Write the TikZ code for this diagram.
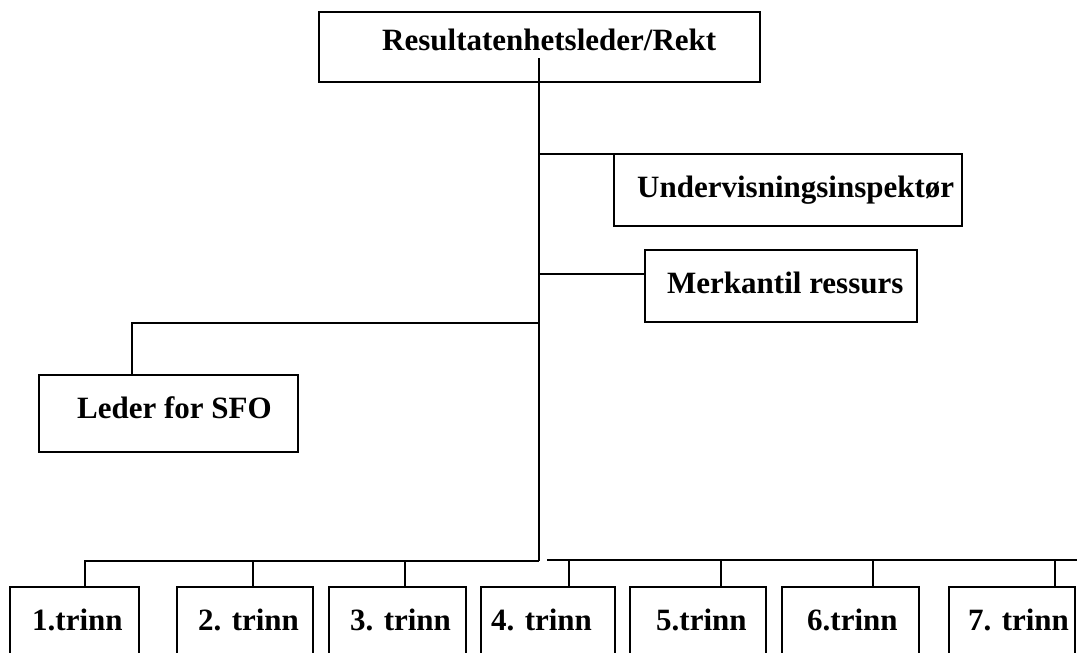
\documentclass[tikz,border=0pt]{standalone}
\usepackage{fontspec}
\setmainfont{Liberation Serif}
\begin{document}
\begin{tikzpicture}[x=1pt,y=-1pt,
  box/.style={draw,line width=1.6pt,inner sep=0pt,outer sep=0pt,anchor=north west},
  lbl/.style={anchor=base west,inner sep=0pt,font=\bfseries\fontsize{31}{37}\selectfont},
  conn/.style={line width=1.6pt}]
\useasboundingbox (0,0) rectangle (1077,653);
% boxes
\node[box,minimum width=441pt,minimum height=70pt] (rektor) at (319,12) {};
\node[box,minimum width=348pt,minimum height=72pt] (ui) at (614,154) {};
\node[box,minimum width=272pt,minimum height=72pt] (mr) at (645,250) {};
\node[box,minimum width=259pt,minimum height=77pt] (sfo) at (39,375) {};
\node[box,minimum width=129pt,minimum height=120pt] (t1) at (10,587) {};
\node[box,minimum width=136pt,minimum height=120pt] (t2) at (177,587) {};
\node[box,minimum width=137pt,minimum height=120pt] (t3) at (329,587) {};
\node[box,minimum width=134pt,minimum height=120pt] (t4) at (481,587) {};
\node[box,minimum width=136pt,minimum height=120pt] (t5) at (630,587) {};
\node[box,minimum width=137pt,minimum height=120pt] (t6) at (782,587) {};
\node[box,minimum width=126pt,minimum height=120pt] (t7) at (949,587) {};
% labels
\node[lbl] (lrektor) at (382,50) {Resultatenhetsleder/Rekt};
\node[lbl] (lui) at (637,197) {Undervisningsinspektør};
\node[lbl] (lmr) at (667,293) {Merkantil ressurs};
\node[lbl] (lsfo) at (77,418) {Leder for SFO};
\node[lbl] (l1) at (32,630) {1.trinn};
\node[lbl] (l2) at (198,630) {2. trinn};
\node[lbl] (l3) at (350,630) {3. trinn};
\node[lbl] (l4) at (491,630) {4. trinn};
\node[lbl] (l5) at (656,630) {5.trinn};
\node[lbl] (l6) at (807,630) {6.trinn};
\node[lbl] (l7) at (968,630) {7. trinn};
% junctions
\coordinate (trunktop) at (539,58);
\coordinate (j1) at (539,154);
\coordinate (j2) at (539,274);
\coordinate (j3) at (539,323);
\coordinate (sfoc) at (132,323);
\coordinate (busL) at (539,561);
\coordinate (busR) at (547,560);
\coordinate (busEnd) at (1077,560);
\coordinate (d1) at (85,561);
\coordinate (d2) at (253,561);
\coordinate (d3) at (405,561);
\coordinate (d4) at (569,560);
\coordinate (d5) at (721,560);
\coordinate (d6) at (873,560);
\coordinate (d7) at (1055,560);
% connectors
\draw[conn] (trunktop) -- (busL);
\draw[conn] (j1) -- (ui.north west);
\draw[conn] (j2) -- (j2 -| mr.west);
\draw[conn] (j3) -- (sfoc) -- (sfoc |- sfo.north);
\draw[conn] (busL) -- (d1) -- (d1 |- t1.north);
\draw[conn] (d2) -- (d2 |- t2.north);
\draw[conn] (d3) -- (d3 |- t3.north);
\draw[conn] (busR) -- (busEnd);
\draw[conn] (d4) -- (d4 |- t4.north);
\draw[conn] (d5) -- (d5 |- t5.north);
\draw[conn] (d6) -- (d6 |- t6.north);
\draw[conn] (d7) -- (d7 |- t7.north);
\end{tikzpicture}
\end{document}
